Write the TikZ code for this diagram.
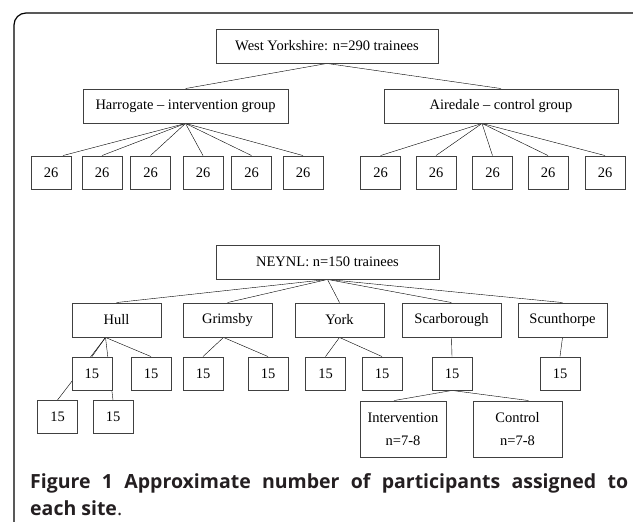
\documentclass[tikz,border=0pt]{standalone}
\usepackage{fontspec}
\setmainfont{Liberation Serif}
\newfontfamily\capfont{Open Sans}
\usetikzlibrary{backgrounds}
\definecolor{BoxClr}{rgb}{0.25,0.25,0.25}
\definecolor{CapClr}{rgb}{0.14,0.12,0.13}
\tikzset{
  box/.style={draw=BoxClr,line width=0.9pt,fill=white,inner sep=0pt,
    minimum height=34pt,font=\fontsize{14.5}{17}\selectfont},
  numbox/.style={box,minimum width=40pt,minimum height=33pt},
  link/.style={line width=0.8pt,black}
}

\begin{document}
\begin{tikzpicture}[x=1pt,y=-1pt]
\useasboundingbox (0,0) rectangle (633,522);
\draw[line width=1.2pt,rounded corners=12pt] (14,522) |- (633,13);

% West Yorkshire
\node[box,minimum width=222pt] (WY) at (327,46) {West Yorkshire: n=290 trainees};
\node[box,minimum width=205pt] (Har) at (185.5,106) {Harrogate -- intervention group};
\node[box,minimum width=234pt] (Air) at (501,106) {Airedale -- control group};

\node[numbox] (A1) at (51,172.5) {26};
\node[numbox] (A2) at (102,172.5) {26};
\node[numbox] (A3) at (150.5,172.5) {26};
\node[numbox] (A4) at (203,172.5) {26};
\node[numbox] (A5) at (251.5,172.5) {26};
\node[numbox] (A6) at (303,172.5) {26};

\node[numbox] (B1) at (380.5,172.5) {26};
\node[numbox] (B2) at (436,172.5) {26};
\node[numbox] (B3) at (492.5,172.5) {26};
\node[numbox] (B4) at (548,172.5) {26};
\node[numbox] (B5) at (605,172.5) {26};

% NEYNL
\node[box,minimum width=223pt] (NE) at (327.5,262) {NEYNL: n=150 trainees};
\node[box,minimum width=89pt] (Hull) at (116.5,320) {Hull};
\node[box,minimum width=89pt] (Gri) at (227.5,320) {Grimsby};
\node[box,minimum width=89pt] (York) at (339.5,320) {York};
\node[box,minimum width=99pt] (Sca) at (451.5,320) {Scarborough};
\node[box,minimum width=89pt] (Scu) at (562.5,320) {Scunthorpe};

\node[numbox] (H1) at (92,373.5) {15};
\node[numbox] (H2) at (151,373.5) {15};
\node[numbox] (H3) at (57.5,417) {15};
\node[numbox] (H4) at (113,417) {15};
\node[numbox] (G1) at (203,373.5) {15};
\node[numbox] (G2) at (268,373.5) {15};
\node[numbox] (Y1) at (325.5,373.5) {15};
\node[numbox] (Y2) at (382,373.5) {15};
\node[numbox] (S1) at (452,373.5) {15};
\node[numbox] (C1) at (560,373.5) {15};

\node[box,minimum width=86pt,minimum height=56pt,align=center] (Int) at (403,429)
  {Intervention\\[6pt]n=7-8};
\node[box,minimum width=89pt,minimum height=56pt,align=center] (Con) at (517.5,429)
  {Control\\[6pt]n=7-8};

\begin{scope}[on background layer,link]
\draw (WY.south) -- (Har.north);
\draw (WY.south) -- (Air.north);
\draw (Har.south) -- ([xshift=12pt]A1.north);
\draw (Har.south) -- (A2.north);
\draw (Har.south) -- (A3.north);
\draw (Har.south) -- (A4.north);
\draw (Har.south) -- (A5.north);
\draw (Har.south) -- (A6.north);
\draw ([xshift=-19pt]Air.south) -- (B1.north);
\draw ([xshift=-19pt]Air.south) -- (B2.north);
\draw ([xshift=-19pt]Air.south) -- (B3.north);
\draw ([xshift=-19pt]Air.south) -- (B4.north);
\draw ([xshift=-19pt]Air.south) -- (B5.north);

\draw (NE.south) -- (Hull.north);
\draw (NE.south) -- (Gri.north);
\draw (NE.south) -- (York.north);
\draw (NE.south) -- (Sca.north);
\draw (NE.south) -- (Scu.north);

\draw ([xshift=-11pt]Hull.south) -- (H1.north);
\draw ([xshift=-11pt]Hull.south) -- (H2.north);
\draw ([xshift=-11pt]Hull.south) -- (H3.north);
\draw ([xshift=-11pt]Hull.south) -- (H4.north);
\draw ([xshift=-4pt]Gri.south) -- (G1.north);
\draw ([xshift=-4pt]Gri.south) -- (G2.north);
\draw (York.south) -- (Y1.north);
\draw (York.south) -- (Y2.north);
\draw (Sca.south) -- (S1.north);
\draw (Scu.south) -- (C1.north);
\draw (S1.south) -- ([xshift=-9pt]Int.north);
\draw (S1.south) -- ([xshift=11pt]Con.north);
\end{scope}

% caption
\node[anchor=base west,inner sep=0pt,text=CapClr,font=\capfont\fontsize{19.5}{23}\selectfont]
  (Cap1) at (30,488) {\makebox[598pt][s]{\bfseries Figure 1 Approximate number of participants assigned to}};
\node[anchor=base west,inner sep=0pt,text=CapClr,font=\capfont\fontsize{19.5}{23}\selectfont]
  (Cap2) at (30,515) {{\bfseries each site}.};
\end{tikzpicture}
\end{document}
